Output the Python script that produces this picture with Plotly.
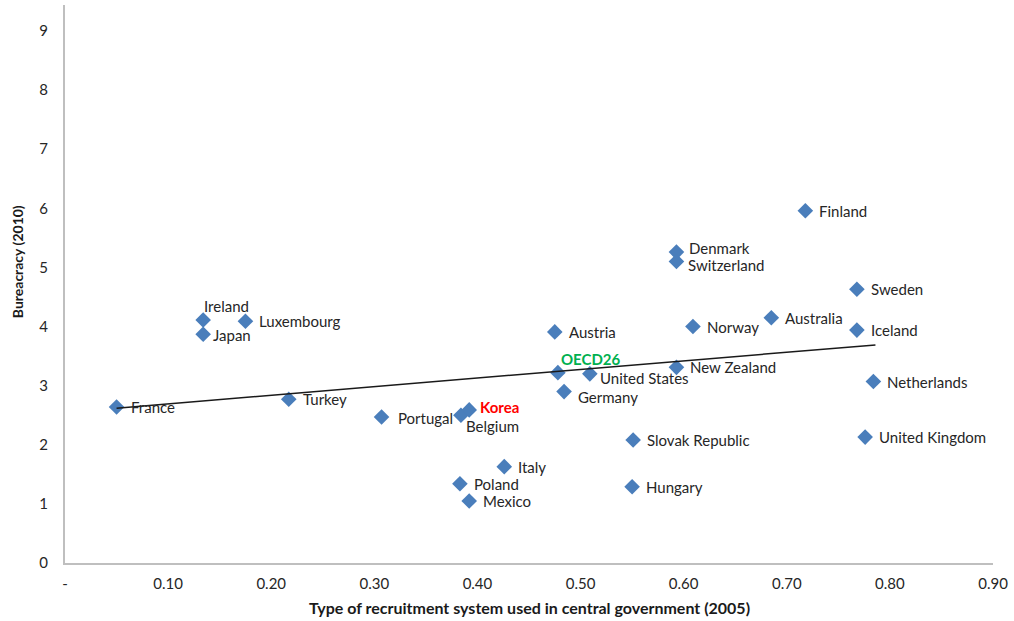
import plotly.graph_objects as go

countries = ["France", "Turkey", "Ireland", "Japan", "Luxembourg", "Portugal", "Belgium", "Korea",
             "Italy", "Poland", "Mexico", "Austria", "OECD26", "United States", "Germany",
             "New Zealand", "Slovak Republic", "Hungary", "Denmark", "Switzerland", "Norway",
             "Australia", "Finland", "Sweden", "Iceland", "Netherlands", "United Kingdom"]
recruitment = [0.050, 0.217, 0.134, 0.134, 0.175, 0.307, 0.384, 0.392,
               0.426, 0.383, 0.392, 0.475, 0.478, 0.509, 0.484,
               0.593, 0.551, 0.550, 0.593, 0.593, 0.609,
               0.685, 0.718, 0.768, 0.768, 0.784, 0.776]
bureaucracy = [2.64, 2.77, 4.11, 3.87, 4.09, 2.47, 2.50, 2.59,
               1.63, 1.34, 1.05, 3.91, 3.22, 3.20, 2.90,
               3.31, 2.08, 1.29, 5.26, 5.10, 4.00,
               4.15, 5.96, 4.63, 3.94, 3.07, 2.13]
trend_x = [0.050, 0.786]
trend_y = [2.62, 3.69]
x_tickvals = [0, 0.1, 0.2, 0.3, 0.4, 0.5, 0.6, 0.7, 0.8, 0.9]
x_ticktext = ["-", "0.10", "0.20", "0.30", "0.40", "0.50", "0.60", "0.70", "0.80", "0.90"]
y_tickvals = [0, 1, 2, 3, 4, 5, 6, 7, 8, 9]

# label offsets (pixels) relative to marker: (xshift, yshift, anchor)
label_style = {
    "Ireland": (0, 14, "left"),
    "Japan": (9, -1, "left"),
    "Korea": (10, 3, "left"),
    "Belgium": (4, -11, "left"),
    "Portugal": (15, -1, "left"),
    "OECD26": (2, 14, "left"),
    "United States": (9, -4, "left"),
    "Germany": (13, -5, "left"),
    "Denmark": (12, 4, "left"),
    "Switzerland": (11, -3, "left"),
}
special_color = {"Korea": "#FF0000", "OECD26": "#00B050"}

FONT = "Lato"
TXT = "#262626"
fig = go.Figure()
fig.add_trace(go.Scatter(x=recruitment, y=bureaucracy, mode="markers",
                         marker=dict(symbol="diamond", size=12, color="#4A7EBB"),
                         hoverinfo="text", text=countries))
fig.add_trace(go.Scatter(x=trend_x, y=trend_y, mode="lines",
                         line=dict(color="#1a1a1a", width=1.5), hoverinfo="skip"))

for c, xv, yv in zip(countries, recruitment, bureaucracy):
    xs, ys, anc = label_style.get(c, (13, 0, "left"))
    col = special_color.get(c, TXT)
    txt = f"<b>{c}</b>" if c in special_color else c
    fig.add_annotation(x=xv, y=yv, text=txt, showarrow=False, xanchor=anc, yanchor="middle",
                       xshift=xs, yshift=ys, borderpad=0,
                       font=dict(family=FONT, size=15, color=col))

fig.add_annotation(x=0.5, xref="paper", y=-0.079, yref="paper", yanchor="middle", xanchor="center",
                   text="<b>Type of recruitment system used in central government (2005)</b>",
                   showarrow=False, font=dict(family=FONT, size=16, color="#1a1a1a"))
fig.add_annotation(xref="paper", x=-0.051, xanchor="center", yref="y", y=5.1, yanchor="middle",
                   textangle=-90, text="<b>Bureacracy (2010)</b>", showarrow=False,
                   font=dict(family=FONT, size=14, color="#1a1a1a"))

fig.update_layout(
    width=1014, height=621, margin=dict(l=65, r=21, t=5, b=58),
    paper_bgcolor="white", plot_bgcolor="white", showlegend=False,
    font=dict(family=FONT, size=15, color=TXT),
    xaxis=dict(range=[0, 0.9], tickvals=x_tickvals, ticktext=x_ticktext, showgrid=False,
               zeroline=False, showline=True, linecolor="#BFBFBF", linewidth=2,
               ticks="", ticklabelstandoff=6, tickfont=dict(size=15, color=TXT)),
    yaxis=dict(range=[0, 9.44], tickvals=y_tickvals, showgrid=False, zeroline=False,
               showline=True, linecolor="#BFBFBF", linewidth=2, ticks="",
               ticklabelstandoff=12, tickfont=dict(size=15, color=TXT)),
)
fig.write_html("out.html")
